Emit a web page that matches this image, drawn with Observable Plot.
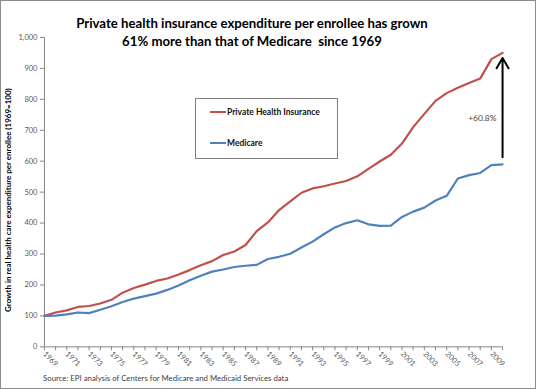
<!DOCTYPE html>
<html><head><meta charset="utf-8">
<script src="https://cdn.jsdelivr.net/npm/d3@7"></script>
<script src="https://cdn.jsdelivr.net/npm/@observablehq/plot@0.6"></script>
<style>
body{margin:0;background:#fff;}
#wrap{position:relative;width:536px;height:389px;box-sizing:border-box;border:1px solid #8c8c8c;overflow:hidden;font-family:Lato,"Open Sans",sans-serif;background:#fff;}
#chart{position:absolute;left:-1px;top:-1px;}
#title{position:absolute;left:-1px;width:504px;top:13px;text-align:center;font-weight:bold;font-size:13.2px;line-height:18px;color:#000;white-space:pre;}
#legend{position:absolute;left:194px;top:97px;width:143px;height:61px;box-sizing:border-box;border:1px solid #7f7f7f;background:#fff;}
.item{position:absolute;left:14px;font-size:8.5px;font-weight:bold;color:#111;white-space:nowrap;}
.sw{display:inline-block;width:16px;height:2px;vertical-align:middle;margin-right:1px;position:relative;top:-1px;}
#source{position:absolute;left:42px;top:372px;font-size:7.8px;color:#404040;white-space:nowrap;}
</style></head>
<body>
<div id="wrap">
<div id="chart"></div>
<div id="title"></div>
<div id="legend"></div>
<div id="source"></div>
</div>
<script>
const titleLines = ["Private health insurance expenditure per enrollee has grown", "61% more than that of Medicare  since 1969"];
const yAxisTitle = "Growth in real health care expenditure per enrollee (1969=100)";
const sourceText = "Source: EPI analysis of Centers for Medicare and Medicaid Services data";
const seriesNames = ["Private Health Insurance", "Medicare"];
const seriesColors = ["#C0504D", "#4F81BD"];
const annotationText = "+60.8%";

const years = [1969,1970,1971,1972,1973,1974,1975,1976,1977,1978,1979,1980,1981,1982,1983,1984,1985,1986,1987,1988,1989,1990,1991,1992,1993,1994,1995,1996,1997,1998,1999,2000,2001,2002,2003,2004,2005,2006,2007,2008,2009,2010];
const privateIns = [100,111,118,129,132,140,152,175,190,201,213,221,234,248,264,277,297,308,329,374,402,442,470,498,512,519,528,536,551,575,599,621,657,710,753,795,820,837,853,867,930,950];
const medicare = [100,101,105,111,109,120,131,145,156,164,172,184,198,215,230,243,250,258,262,265,284,291,301,321,340,364,386,400,409,396,391,392,420,437,450,473,488,544,555,562,587,590];
const xTickLabels = ["1969","1971","1973","1975","1977","1979","1981","1983","1985","1987","1989","1991","1993","1995","1997","1999","2001","2003","2005","2007","2009"];
const yTicks = [0,100,200,300,400,500,600,700,800,900,1000];

const data = years.flatMap((yr, i) => [
  {year: yr, value: privateIns[i], series: seriesNames[0]},
  {year: yr, value: medicare[i], series: seriesNames[1]}
]);
const last = years.length - 1;
const arrowData = [{x: years[last], y1: medicare[last], y2: privateIns[last], label: annotationText}];

const chart = Plot.plot({
  width: 536, height: 389,
  marginLeft: 44, marginRight: 33, marginTop: 37, marginBottom: 42,
  style: {fontFamily: "Lato, sans-serif", fontSize: "7.5px", color: "#595959", background: "transparent", overflow: "visible"},
  x: {domain: [years[0], years[last]]},
  y: {domain: [0, 1000]},
  color: {domain: seriesNames, range: seriesColors},
  marks: [
    Plot.axisY({ticks: yTicks, tickSize: 4, tickPadding: 3, tickFormat: d3.format(","), stroke: "#868686", label: null}),
    Plot.axisX({ticks: years, tickSize: 4, tickPadding: 2, tickRotate: 45, stroke: "#868686",
      tickFormat: d => xTickLabels.includes(String(d)) ? String(d) : "", label: null}),
    Plot.ruleX([years[0]], {stroke: "#868686"}),
    Plot.ruleY([0], {stroke: "#868686"}),
    Plot.line(data, {x: "year", y: "value", stroke: "series", strokeWidth: 2.2}),
    Plot.arrow(arrowData, {x1: "x", x2: "x", y1: "y1", y2: "y2", stroke: "#000", strokeWidth: 2, headLength: 9, insetStart: 7, insetEnd: 5}),
    Plot.text(arrowData, {x: "x", y: d => (d.y1 + d.y2) / 2, text: "label", textAnchor: "end", dx: -6, dy: 10, fill: "#4a4a38", fontSize: 8.5}),
    Plot.text([yAxisTitle], {frameAnchor: "left", textAnchor: "middle", rotate: -90, dx: -36, dy: 8, fill: "#000", fontWeight: "bold", fontSize: 8})
  ]
});
document.getElementById("chart").appendChild(chart);

const t = document.getElementById("title");
titleLines.forEach(s => { const d = document.createElement("div"); d.textContent = s; t.appendChild(d); });

const lg = document.getElementById("legend");
seriesNames.forEach((s, i) => {
  const d = document.createElement("div");
  d.className = "item";
  d.style.top = (i === 0 ? 8 : 39) + "px";
  d.innerHTML = `<span class="sw" style="background:${seriesColors[i]}"></span>`;
  d.appendChild(document.createTextNode(s));
  lg.appendChild(d);
});
document.getElementById("source").textContent = sourceText;
</script>
</body></html>
